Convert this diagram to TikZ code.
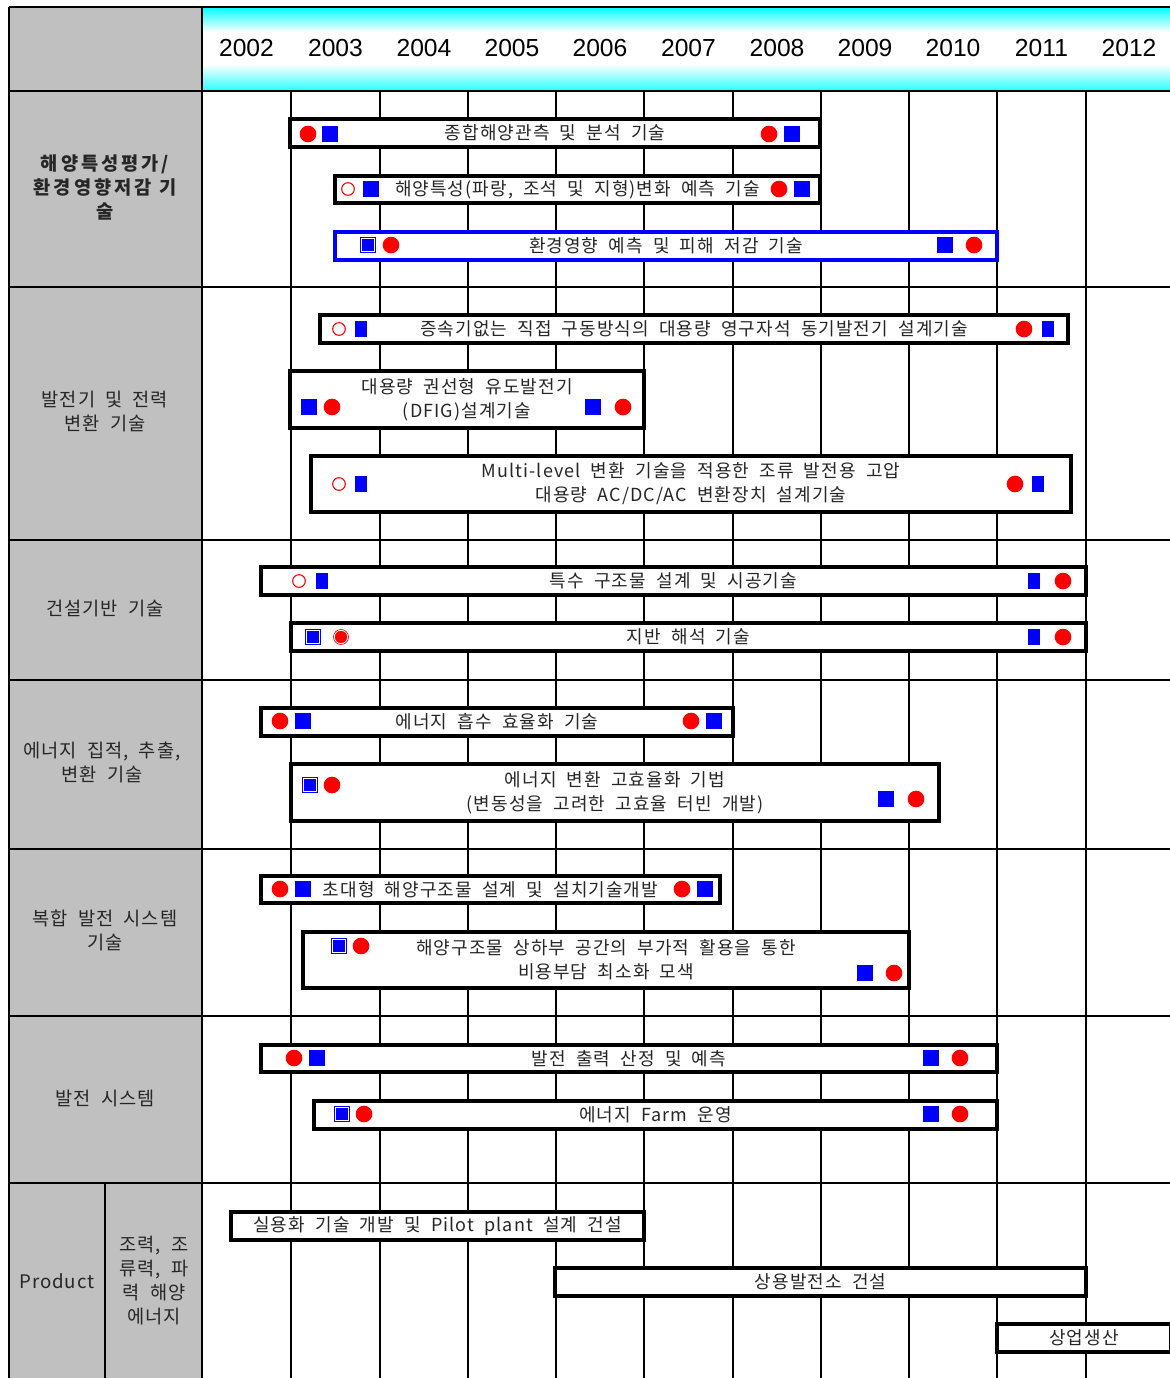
\documentclass[tikz,border=0pt]{standalone}
\usepackage{fontspec}
\newfontfamily\kr[WordSpace=2,LetterSpace=6]{Noto Sans CJK KR}
\newfontfamily\krl[WordSpace=2,LetterSpace=5]{Noto Sans CJK KR}
\newfontfamily\krsp[LetterSpace=16]{Noto Sans CJK KR}
\newfontfamily\yr{Liberation Sans}
\definecolor{lgray}{RGB}{192,192,192}
\definecolor{cy}{RGB}{0,255,255}
\newcommand\gbar[7]{%
  \node[bar,#6,minimum width={(#4-#2)*0.75pt},minimum height={(#5-#3)*0.75pt}] (#1) at ({(#2+#4)/2},{(#3+#5)/2}) {#7};}
\begin{document}
\begin{tikzpicture}[x=0.75pt,y=-0.75pt,
  gridline/.style={line width=1.1pt},
  bar/.style={draw=black, line width=2.6pt, fill=white, inner sep=0pt, text=black!85,
    font=\kr\fontsize{13.5}{18}\selectfont, align=center},
  bluebar/.style={draw=blue},
  rc/.style={circle, fill=red, inner sep=0pt, minimum size=12.5pt},
  rh/.style={circle, draw=red, line width=0.8pt, fill=white, inner sep=0pt, minimum size=9.5pt},
  rr/.style={circle, fill=red, draw=red, double=white, line width=0.6pt, double distance=0.6pt, inner sep=0pt, minimum size=10pt},
  bs/.style={rectangle, fill=blue, inner sep=0pt, minimum size=11.5pt},
  bsn/.style={rectangle, fill=blue, inner sep=0pt, minimum width=8.5pt, minimum height=12.5pt},
  bf/.style={rectangle, fill=blue, draw=blue, double=white, line width=0.6pt, double distance=0.7pt, inner sep=0pt, minimum size=9.5pt},
  lab/.style={font=\krl\fontsize{14}{18}\selectfont, align=center, text=black!85},
  yearlab/.style={font=\yr\fontsize{18.5}{20}\selectfont}]
\useasboundingbox (0,0) rectangle (1170,1378);
% left column
\fill[lgray] (9,7) rectangle (202,1378);
% header shading
\shade[top color=cy, bottom color=white] (202,7) rectangle (1172,32);
\fill[white] (202,32) rectangle (1172,64);
\shade[top color=white, bottom color=cy!85] (202,64) rectangle (1172,91);
% years
\foreach \yv/\xc in {2002/246.5,2003/335.5,2004/424,2005/512,2006/600,2007/688.5,2008/777,2009/865,2010/953,2011/1041.5,2012/1129}
  \node[yearlab] (y\yv) at (\xc,48) {\yv};
% grid
\foreach \xv in {291,380,468,556,644,733,821,909,997,1086}
  \draw[gridline] (\xv,91) -- (\xv,1380);
\foreach \yv in {91,287,540,680,849,1016}
  \draw[gridline] (9,\yv) -- (1172,\yv);
\draw[line width=2.2pt] (9,1183) -- (1172,1183);
\draw[line width=1.4pt] (9,7) -- (1172,7);
\draw[line width=1.4pt] (9,7) -- (9,1380);
\draw[line width=1.4pt] (202,7) -- (202,1380);
\draw[gridline] (105,1183) -- (105,1380);
% left labels
\node[lab, font=\krsp\bfseries\fontsize{14}{18}\selectfont] (L1) at (105,187) {해양특성평가/\\환경영향저감 기\\술};
\node[lab] (L2) at (105,412) {발전기 및 전력\\변환 기술};
\node[lab] (L3) at (105,609) {건설기반 기술};
\node[lab] (L4) at (102,762) {에너지 집적, 추출,\\변환 기술};
\node[lab] (L5) at (105,930) {복합 발전 시스템\\기술};
\node[lab] (L6) at (105,1099) {발전 시스템};
\node[lab] (L7) at (57,1281) {Product};
\node[lab] (L8) at (154,1281) {조력, 조\\류력, 파\\력 해양\\에너지};
% bars
\gbar{b1}{290}{119}{820}{147}{}{종합해양관측 및 분석 기술}
\gbar{b2}{335}{176}{820}{203}{}{해양특성(파랑, 조석 및 지형)변화 예측 기술}
\gbar{b3}{335}{232}{997}{260}{bluebar}{환경영향 예측 및 피해 저감 기술}
\gbar{b4}{320}{315}{1068}{343}{}{증속기없는 직접 구동방식의 대용량 영구자석 동기발전기 설계기술}
\gbar{b5}{290}{371}{644}{428}{}{대용량 권선형 유도발전기\\(DFIG)설계기술}
\gbar{b6}{311}{456}{1071}{512}{}{Multi-level 변환 기술을 적용한 조류 발전용 고압\\대용량 AC/DC/AC 변환장치 설계기술}
\gbar{b7}{261}{567}{1086}{595}{}{특수 구조물 설계 및 시공기술}
\gbar{b8}{291}{623}{1086}{651}{}{지반 해석 기술}
\gbar{b9}{261}{708}{733}{736}{}{에너지 흡수 효율화 기술}
\gbar{b10}{291}{764}{939}{821}{}{에너지 변환 고효율화 기법\\(변동성을 고려한 고효율 터빈 개발)}
\gbar{b11}{261}{876}{720}{903}{}{초대형 해양구조물 설계 및 설치기술개발}
\gbar{b12}{303}{932}{909}{988}{}{해양구조물 상하부 공간의 부가적 활용을 통한\\비용부담 최소화 모색}
\gbar{b13}{261}{1045}{997}{1072}{}{발전 출력 산정 및 예측}
\gbar{b14}{314}{1101}{997}{1129}{}{에너지 Farm 운영}
\gbar{b15}{231}{1212}{644}{1240}{}{실용화 기술 개발 및 Pilot plant 설계 건설}
\gbar{b16}{555}{1268}{1086}{1296}{}{상용발전소 건설}
\gbar{b17}{997}{1324}{1171}{1352}{}{상업생산}
% markers
\node[rc] (m1a) at (308,134) {}; \node[bs] (m1b) at (330,134) {};
\node[rc] (m1c) at (769,134) {}; \node[bs] (m1d) at (792,134) {};
\node[rh] (m2a) at (348,189) {}; \node[bs] (m2b) at (371,189) {};
\node[rc] (m2c) at (779,189) {}; \node[bs] (m2d) at (802,189) {};
\node[bf] (m3a) at (368,245) {}; \node[rc] (m3b) at (391,245) {};
\node[bs] (m3c) at (945,245) {}; \node[rc] (m3d) at (974,245) {};
\node[rh] (m4a) at (339,329) {}; \node[bsn] (m4b) at (361,329) {};
\node[rc] (m4c) at (1024,329) {}; \node[bsn] (m4d) at (1048,329) {};
\node[bs] (m5a) at (309,407) {}; \node[rc] (m5b) at (332,407) {};
\node[bs] (m5c) at (593,407) {}; \node[rc] (m5d) at (623,407) {};
\node[rh] (m6a) at (339,484) {}; \node[bsn] (m6b) at (361,484) {};
\node[rc] (m6c) at (1015,484) {}; \node[bsn] (m6d) at (1038,484) {};
\node[rh] (m7a) at (299,581) {}; \node[bsn] (m7b) at (322,581) {};
\node[bsn] (m7c) at (1034,581) {}; \node[rc] (m7d) at (1063,581) {};
\node[bf] (m8a) at (313,637) {}; \node[rr] (m8b) at (341,637) {};
\node[bsn] (m8c) at (1034,637) {}; \node[rc] (m8d) at (1063,637) {};
\node[rc] (m9a) at (280,721) {}; \node[bs] (m9b) at (303,721) {};
\node[rc] (m9c) at (691,721) {}; \node[bs] (m9d) at (714,721) {};
\node[bf] (m10a) at (310,785) {}; \node[rc] (m10b) at (332,785) {};
\node[bs] (m10c) at (886,799) {}; \node[rc] (m10d) at (916,799) {};
\node[rc] (m11a) at (280,889) {}; \node[bs] (m11b) at (303,889) {};
\node[rc] (m11c) at (682,889) {}; \node[bs] (m11d) at (705,889) {};
\node[bf] (m12a) at (339,946) {}; \node[rc] (m12b) at (361,946) {};
\node[bs] (m12c) at (865,973) {}; \node[rc] (m12d) at (894,973) {};
\node[rc] (m13a) at (294,1058) {}; \node[bs] (m13b) at (317,1058) {};
\node[bs] (m13c) at (931,1058) {}; \node[rc] (m13d) at (960,1058) {};
\node[bf] (m14a) at (342,1114) {}; \node[rc] (m14b) at (364,1114) {};
\node[bs] (m14c) at (931,1114) {}; \node[rc] (m14d) at (960,1114) {};
\end{tikzpicture}
\end{document}
